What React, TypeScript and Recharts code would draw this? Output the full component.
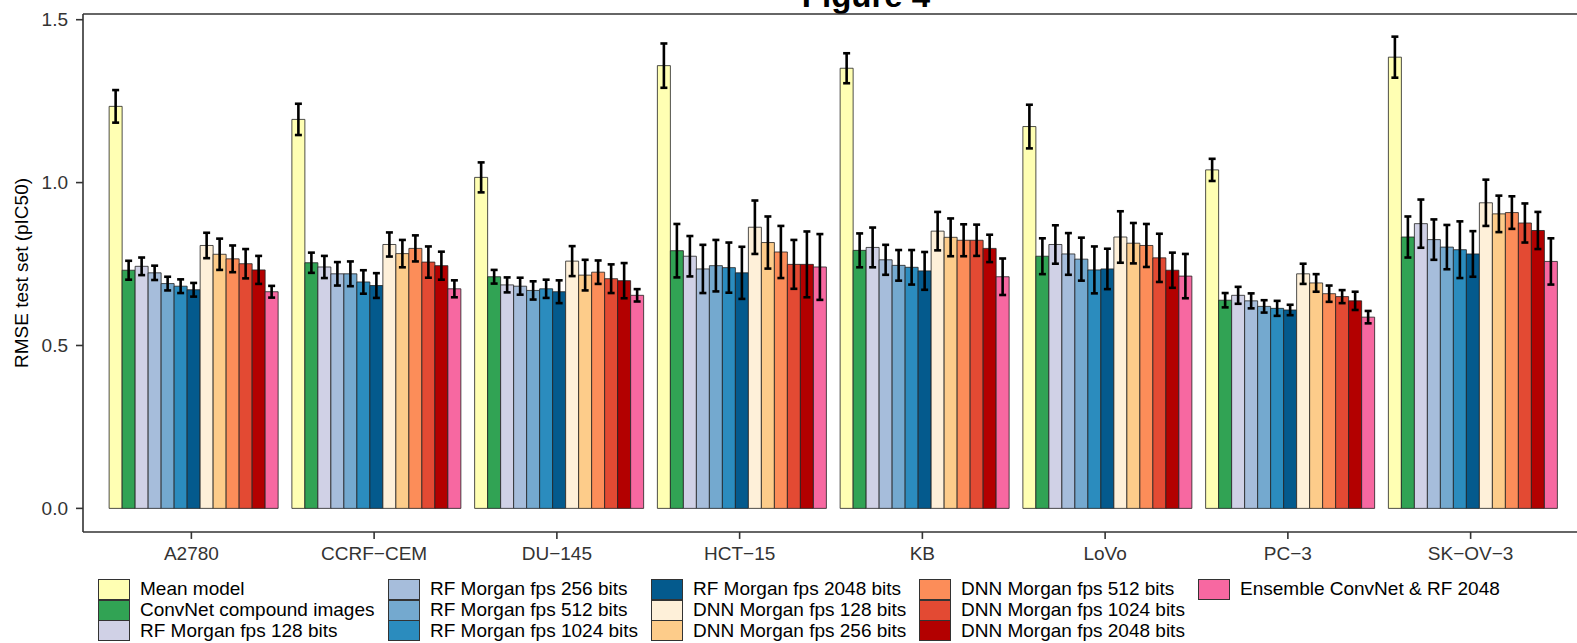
import { BarChart, Bar, XAxis, YAxis, ErrorBar, Legend, ReferenceLine } from 'recharts'

const FONT = "'Liberation Sans', Arial, Helvetica, sans-serif"

const cellLines = ['A2780', 'CCRF−CEM', 'DU−145', 'HCT−15', 'KB', 'LoVo', 'PC−3', 'SK−OV−3']

const seriesNames = [
  'Mean model',
  'ConvNet compound images',
  'RF Morgan fps 128 bits',
  'RF Morgan fps 256 bits',
  'RF Morgan fps 512 bits',
  'RF Morgan fps 1024 bits',
  'RF Morgan fps 2048 bits',
  'DNN Morgan fps 128 bits',
  'DNN Morgan fps 256 bits',
  'DNN Morgan fps 512 bits',
  'DNN Morgan fps 1024 bits',
  'DNN Morgan fps 2048 bits',
  'Ensemble ConvNet & RF 2048',
]

const seriesColors = [
  '#FFFFB3', '#31A354',
  '#D0D1E6', '#A6BDDB', '#74A9CF', '#2B8CBE', '#045A8D',
  '#FEF0D9', '#FDCC8A', '#FC8D59', '#E34A33', '#B30000',
  '#F768A1',
]

// RMSE per cell line (same order as cellLines), with error bar half-widths
const meanModel = [1.234, 1.194, 1.016, 1.359, 1.351, 1.172, 1.039, 1.385]
const meanModelErr = [0.05, 0.048, 0.046, 0.068, 0.046, 0.067, 0.034, 0.063]
const convNet = [0.731, 0.754, 0.711, 0.791, 0.792, 0.774, 0.639, 0.833]
const convNetErr = [0.029, 0.031, 0.021, 0.082, 0.052, 0.055, 0.022, 0.063]
const rf128 = [0.743, 0.741, 0.686, 0.774, 0.801, 0.81, 0.654, 0.874]
const rf128Err = [0.027, 0.034, 0.023, 0.062, 0.061, 0.059, 0.026, 0.074]
const rf256 = [0.723, 0.72, 0.682, 0.735, 0.763, 0.781, 0.637, 0.825]
const rf256Err = [0.022, 0.036, 0.026, 0.074, 0.046, 0.064, 0.023, 0.062]
const rf512 = [0.69, 0.72, 0.669, 0.745, 0.746, 0.765, 0.62, 0.802]
const rf512Err = [0.021, 0.038, 0.028, 0.079, 0.047, 0.066, 0.019, 0.068]
const rf1024 = [0.682, 0.695, 0.674, 0.739, 0.74, 0.732, 0.614, 0.794]
const rf1024Err = [0.021, 0.036, 0.028, 0.077, 0.053, 0.072, 0.023, 0.087]
const rf2048 = [0.671, 0.684, 0.665, 0.723, 0.729, 0.735, 0.609, 0.781]
const rf2048Err = [0.021, 0.038, 0.035, 0.08, 0.058, 0.062, 0.016, 0.07]
const dnn128 = [0.807, 0.81, 0.759, 0.863, 0.851, 0.833, 0.72, 0.938]
const dnn128Err = [0.039, 0.037, 0.046, 0.082, 0.059, 0.079, 0.031, 0.071]
const dnn256 = [0.78, 0.782, 0.716, 0.816, 0.832, 0.814, 0.692, 0.904]
const dnn256Err = [0.048, 0.042, 0.047, 0.08, 0.058, 0.062, 0.027, 0.056]
const dnn512 = [0.766, 0.798, 0.725, 0.787, 0.823, 0.807, 0.659, 0.908]
const dnn512Err = [0.041, 0.04, 0.036, 0.08, 0.049, 0.066, 0.025, 0.05]
const dnn1024 = [0.751, 0.756, 0.705, 0.749, 0.823, 0.769, 0.65, 0.876]
const dnn1024Err = [0.045, 0.048, 0.044, 0.075, 0.048, 0.074, 0.02, 0.06]
const dnn2048 = [0.732, 0.745, 0.699, 0.749, 0.798, 0.731, 0.637, 0.853]
const dnn2048Err = [0.043, 0.043, 0.054, 0.101, 0.042, 0.054, 0.028, 0.057]
const ensemble = [0.665, 0.674, 0.654, 0.741, 0.711, 0.713, 0.587, 0.758]
const ensembleErr = [0.018, 0.026, 0.019, 0.101, 0.056, 0.068, 0.019, 0.071]

const yTicks = [0, 0.5, 1, 1.5]

const seriesValues = [meanModel, convNet, rf128, rf256, rf512, rf1024, rf2048,
  dnn128, dnn256, dnn512, dnn1024, dnn2048, ensemble]
const seriesErrors = [meanModelErr, convNetErr, rf128Err, rf256Err, rf512Err, rf1024Err, rf2048Err,
  dnn128Err, dnn256Err, dnn512Err, dnn1024Err, dnn2048Err, ensembleErr]

const data = cellLines.map((name, i) => {
  const row: Record<string, string | number> = { name }
  seriesValues.forEach((vals, s) => {
    row[`s${s}`] = vals[i]
    row[`e${s}`] = seriesErrors[s][i]
  })
  return row
})

const Y_MIN = -0.0723
const Y_MAX = 1.5175

function LegendBlock({ payload }: any) {
  // keep the series order, recharts sorts the payload by name otherwise
  const items = [...(payload ?? [])].sort(
    (a: any, b: any) => seriesNames.indexOf(a.value) - seriesNames.indexOf(b.value))
  return (
    <div style={{
      display: 'grid', gridTemplateRows: 'repeat(3, 20.7px)', gridAutoFlow: 'column',
      gridTemplateColumns: '290px 263px 268px 279px auto',
      fontFamily: FONT, fontSize: 19, color: '#000',
    }}>
      {items.map((p: any) => (
        <div key={p.value} style={{ display: 'flex', alignItems: 'center', whiteSpace: 'nowrap' }}>
          <span style={{
            display: 'inline-block', width: 32, height: 21, boxSizing: 'border-box', flex: 'none',
            background: seriesColors[seriesNames.indexOf(p.value)] ?? p.color,
            border: '1px solid #333', marginRight: 10,
          }} />
          <span>{p.value}</span>
        </div>
      ))}
    </div>
  )
}

export default function App() {
  return (
    <div style={{ position: 'relative', width: 1577, height: 643, overflow: 'hidden', background: '#fff' }}>
      <style>{'body{margin:0}'}</style>
      <div style={{
        position: 'absolute', left: 0, width: 1732, top: -23, textAlign: 'center',
        fontFamily: FONT, fontWeight: 'bold', fontSize: 33, lineHeight: 'normal', color: '#000',
      }}>
        Figure 4
      </div>
      <BarChart width={1577} height={643} data={data}
        margin={{ top: 14, right: 0, bottom: 9, left: 0 }}
        barCategoryGap="5%" barGap={0}>
        <XAxis dataKey="name" height={40} padding={{ left: 17, right: 15 }}
          axisLine={{ stroke: '#333', strokeWidth: 1.6 }}
          tickLine={{ stroke: '#333', strokeWidth: 1.6 }} tickSize={7} tickMargin={8}
          tick={{ fontFamily: FONT, fontSize: 19, fill: '#333' }} interval={0} />
        <YAxis type="number" domain={[Y_MIN, Y_MAX]} ticks={yTicks} allowDataOverflow width={83}
          tickFormatter={(v: number) => v.toFixed(1)}
          axisLine={{ stroke: '#333', strokeWidth: 1.6 }}
          tickLine={{ stroke: '#333', strokeWidth: 1.6 }} tickSize={7} tickMargin={8}
          tick={{ fontFamily: FONT, fontSize: 19, fill: '#333' }}
          label={{
            value: 'RMSE test set (pIC50)', angle: -90, position: 'insideLeft', offset: 21,
            style: { textAnchor: 'middle', fontFamily: FONT, fontSize: 19, fill: '#000' },
          }} />
        <ReferenceLine y={Y_MAX} stroke="#333" strokeWidth={1.6} />
        {seriesNames.map((nm, s) => (
          <Bar key={nm} name={nm} dataKey={`s${s}`} fill={seriesColors[s]}
            stroke="#222" strokeWidth={0.8} isAnimationActive={false}>
            <ErrorBar dataKey={`e${s}`} width={3.5} strokeWidth={2.6} stroke="#000" isAnimationActive={false} />
          </Bar>
        ))}
        <Legend verticalAlign="bottom" content={<LegendBlock />}
          wrapperStyle={{ left: 98, top: 579, bottom: 'auto', width: 'auto' }} />
      </BarChart>
    </div>
  )
}
